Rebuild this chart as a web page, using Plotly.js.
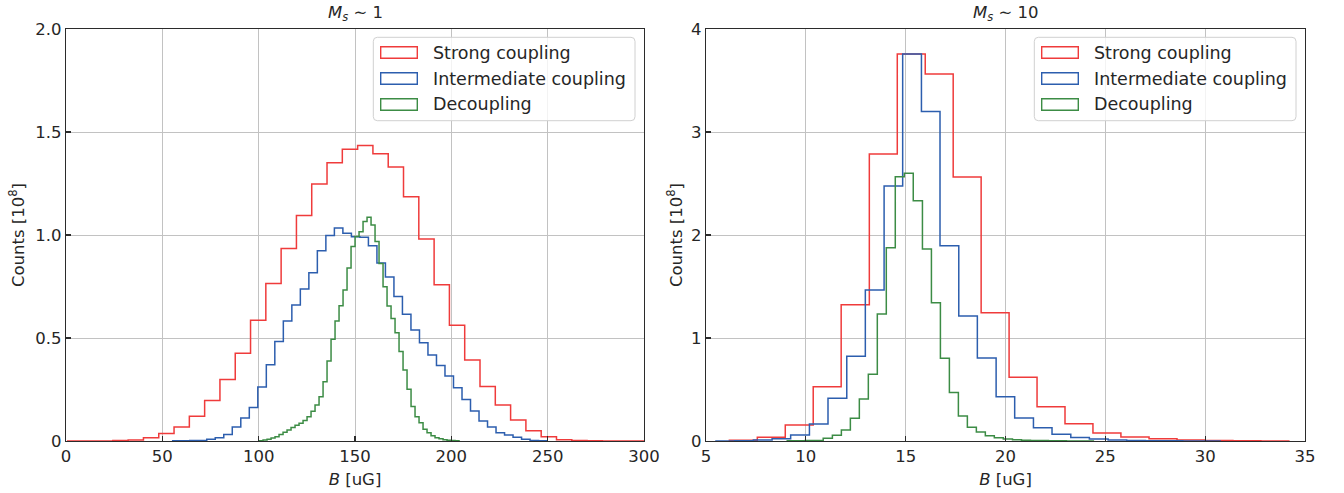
<!DOCTYPE html>
<html><head><meta charset="utf-8">
<script src="https://cdn.plot.ly/plotly-3.0.1.min.js"></script>
<style>html,body{margin:0;padding:0;background:#fff;}#chart{width:1344px;height:493px;}</style>
</head><body><div id="chart"></div>
<script>
// ---------- data ----------
const seriesNames = ['Strong coupling', 'Intermediate coupling', 'Decoupling'];
const panelTitles = ['<i>M</i><sub><i>s</i></sub> \u223C 1', '<i>M</i><sub><i>s</i></sub> \u223C 10'];

// Left panel (M_s ~ 1): bin edges in uG, counts in 1e8
const strongEdgesL = [0.5, 8.44, 16.38, 24.32, 32.26, 40.2, 48.14, 56.08, 64.02, 71.96, 79.9, 87.84, 95.78, 103.72, 111.66, 119.6, 127.54, 135.48, 143.42, 151.36, 159.3, 167.24, 175.18, 183.12, 191.06, 199.0, 206.94, 214.88, 222.82, 230.76, 238.7, 246.64, 254.58, 262.52, 270.46, 278.4, 286.34, 294.28, 302.22];
const strongCountsL = [0, 0, 0.0005, 0.002, 0.005, 0.016, 0.037, 0.068, 0.12, 0.196, 0.298, 0.426, 0.586, 0.764, 0.935, 1.095, 1.248, 1.351, 1.416, 1.435, 1.395, 1.330, 1.186, 0.981, 0.758, 0.562, 0.393, 0.264, 0.175, 0.102, 0.050, 0.021, 0.006, 0.002, 0.001, 0.0005, 0, 0];

const interEdgesL = [55.39, 59.81, 64.22, 68.64, 73.06, 77.47, 81.89, 86.30, 90.72, 95.14, 99.55, 103.97, 108.38, 112.80, 117.22, 121.63, 126.05, 130.46, 134.88, 139.30, 143.71, 148.13, 152.54, 156.96, 161.38, 165.79, 170.21, 174.62, 179.04, 183.46, 187.87, 192.29, 196.70, 201.12, 205.54, 209.95, 214.37, 218.78, 223.20, 227.62, 232.03, 236.45, 240.86, 245.28, 249.70];
const interCountsL = [0.001, 0.001, 0.002, 0.003, 0.008, 0.016, 0.032, 0.068, 0.112, 0.163, 0.262, 0.370, 0.483, 0.582, 0.660, 0.738, 0.817, 0.924, 0.998, 1.034, 1.008, 0.992, 0.989, 0.948, 0.864, 0.796, 0.702, 0.615, 0.539, 0.477, 0.417, 0.366, 0.316, 0.259, 0.202, 0.146, 0.097, 0.068, 0.040, 0.029, 0.018, 0.008, 0.002, 0.001];

const decEdgesL = [100.20, 102.28, 104.35, 106.43, 108.50, 110.58, 112.66, 114.73, 116.81, 118.88, 120.96, 123.04, 125.11, 127.19, 129.26, 131.34, 133.42, 135.49, 137.57, 139.64, 141.72, 143.80, 145.87, 147.95, 150.02, 152.10, 154.18, 156.25, 158.33, 160.40, 162.48, 164.56, 166.63, 168.71, 170.78, 172.86, 174.94, 177.01, 179.09, 181.16, 183.24, 185.32, 187.39, 189.47, 191.54, 193.62, 195.70, 197.77, 199.85, 201.92, 204.00];
const decCountsL = [0.001, 0.005, 0.008, 0.015, 0.021, 0.032, 0.042, 0.053, 0.065, 0.076, 0.086, 0.099, 0.118, 0.144, 0.175, 0.215, 0.288, 0.388, 0.494, 0.583, 0.657, 0.733, 0.840, 0.944, 0.993, 1.016, 1.065, 1.086, 1.049, 0.968, 0.862, 0.749, 0.655, 0.595, 0.526, 0.434, 0.345, 0.251, 0.167, 0.118, 0.089, 0.057, 0.040, 0.026, 0.016, 0.011, 0.006, 0.004, 0.002, 0.001];

// Right panel (M_s ~ 10)
const strongEdgesR = [6.17, 7.57, 8.97, 10.37, 11.77, 13.18, 14.58, 15.98, 17.38, 18.78, 20.18, 21.58, 22.98, 24.38, 25.78, 27.19, 28.59, 29.99, 31.39, 32.79, 34.19];
const strongCountsR = [0.008, 0.036, 0.155, 0.527, 1.324, 2.786, 3.757, 3.563, 2.563, 1.246, 0.618, 0.333, 0.168, 0.078, 0.039, 0.023, 0.010, 0.006, 0.003, 0.001];

const interEdgesR = [5.50, 6.44, 7.37, 8.31, 9.24, 10.18, 11.11, 12.05, 12.98, 13.92, 14.85, 15.79, 16.72, 17.66, 18.59, 19.53, 20.46, 21.40, 22.33, 23.27, 24.20, 25.14, 26.07, 27.01, 27.94, 28.88, 29.81, 30.75];
const interCountsR = [0.001, 0.003, 0.01, 0.023, 0.058, 0.165, 0.414, 0.822, 1.466, 2.476, 3.757, 3.20, 1.896, 1.214, 0.806, 0.430, 0.223, 0.129, 0.065, 0.034, 0.019, 0.009, 0.005, 0.003, 0.002, 0.001, 0.0005];

const decEdgesR = [9.07, 9.52, 9.97, 10.42, 10.87, 11.33, 11.78, 12.23, 12.68, 13.13, 13.58, 14.03, 14.48, 14.93, 15.38, 15.84, 16.29, 16.74, 17.19, 17.64, 18.09, 18.54, 18.99, 19.44, 19.89, 20.35, 20.80, 21.25, 21.70, 22.15, 22.60, 23.05, 23.50, 23.95, 24.40];
const decCountsR = [0.002, 0.003, 0.004, 0.006, 0.026, 0.055, 0.107, 0.220, 0.408, 0.647, 1.233, 1.877, 2.566, 2.600, 2.333, 1.864, 1.343, 0.803, 0.472, 0.243, 0.133, 0.087, 0.052, 0.032, 0.019, 0.012, 0.008, 0.005, 0.004, 0.003, 0.002, 0.001, 0.001, 0.0005];

// Tick labels
const xTickValsL = [0, 50, 100, 150, 200, 250, 300];
const xTickTextL = ['0', '50', '100', '150', '200', '250', '300'];
const yTickValsL = [0, 0.5, 1, 1.5, 2];
const yTickTextL = ['0', '0.5', '1.0', '1.5', '2.0'];
const xTickValsR = [5, 10, 15, 20, 25, 30, 35];
const xTickTextR = ['5', '10', '15', '20', '25', '30', '35'];
const yTickValsR = [0, 1, 2, 3, 4];
const yTickTextR = ['0', '1', '2', '3', '4'];
const xLabel = '<i>B</i> [uG]';
const yLabel = 'Counts [10<sup>8</sup>]';

// ---------- styling / build ----------
const colors = ['#ef3b3b', '#2c5eae', '#3c8c45'];
const FONT = 'DejaVu Sans';
const TXT = '#262626';

function stepTrace(edges, counts, color, xa, ya, name) {
  const x = [edges[0]].concat(edges);
  const y = [0].concat(counts, [0]);
  return {type: 'scatter', mode: 'lines', x: x, y: y, xaxis: xa, yaxis: ya, name: name,
          line: {shape: 'hv', color: color, width: 1.5}, showlegend: false, hoverinfo: 'skip'};
}

const traces = [
  stepTrace(strongEdgesL, strongCountsL, colors[0], 'x', 'y', seriesNames[0]),
  stepTrace(interEdgesL, interCountsL, colors[1], 'x', 'y', seriesNames[1]),
  stepTrace(decEdgesL, decCountsL, colors[2], 'x', 'y', seriesNames[2]),
  stepTrace(strongEdgesR, strongCountsR, colors[0], 'x2', 'y2', seriesNames[0]),
  stepTrace(interEdgesR, interCountsR, colors[1], 'x2', 'y2', seriesNames[1]),
  stepTrace(decEdgesR, decCountsR, colors[2], 'x2', 'y2', seriesNames[2])
];

const W = 1344, H = 493;
const ML = 66, MR = 39, MT = 29, MB = 52;
const PW = W - ML - MR, PH = H - MT - MB;
const X = px => (px - ML) / PW;
const Y = py => (H - MB - py) / PH;

function axisBase() {
  return {
    showline: true, mirror: true, linecolor: '#2b2b2b', linewidth: 1.2,
    showgrid: true, gridcolor: '#c2c2c2', gridwidth: 1,
    zeroline: false, ticks: 'inside', ticklen: 5, tickwidth: 1.1, tickcolor: '#2b2b2b',
    tickfont: {family: FONT, size: 16.5, color: TXT},
    tickmode: 'array', fixedrange: true
  };
}

const layout = {
  width: W, height: H,
  margin: {l: ML, r: MR, t: MT, b: MB},
  paper_bgcolor: '#ffffff', plot_bgcolor: '#ffffff',
  showlegend: false,
  font: {family: FONT, color: TXT},
  xaxis: Object.assign(axisBase(), {domain: [0, X(644)], range: [0, 300], tickvals: xTickValsL, ticktext: xTickTextL, anchor: 'y',
    title: {text: xLabel, font: {family: FONT, size: 16.5, color: TXT}, standoff: 8}}),
  yaxis: Object.assign(axisBase(), {domain: [0, 1], range: [0, 2], tickvals: yTickValsL, ticktext: yTickTextL, anchor: 'x',
    title: {text: yLabel, font: {family: FONT, size: 16.5, color: TXT}, standoff: 6}}),
  xaxis2: Object.assign(axisBase(), {domain: [X(706), 1], range: [5, 35], tickvals: xTickValsR, ticktext: xTickTextR, anchor: 'y2',
    title: {text: xLabel, font: {family: FONT, size: 16.5, color: TXT}, standoff: 8}}),
  yaxis2: Object.assign(axisBase(), {domain: [0, 1], range: [0, 4], tickvals: yTickValsR, ticktext: yTickTextR, anchor: 'x2',
    title: {text: yLabel, font: {family: FONT, size: 16.5, color: TXT}, standoff: 4}}),
  shapes: [], annotations: []
};

// Panel titles
[[66, 644], [706, 1305]].forEach((p, i) => {
  layout.annotations.push({xref: 'paper', yref: 'paper', x: X((p[0] + p[1]) / 2), y: Y(13.5),
    xanchor: 'center', yanchor: 'middle', showarrow: false, text: panelTitles[i],
    font: {family: FONT, size: 16.5, color: TXT}});
});

// Legends (matplotlib style boxes with outline patches)
function roundRect(x0, y0, x1, y1, r) {
  const rx = r / PW, ry = r / PH;
  const a = X(x0), b = X(x1), t = Y(y0), u = Y(y1);
  return `M${a + rx},${t} L${b - rx},${t} Q${b},${t} ${b},${t - ry} L${b},${u + ry} Q${b},${u} ${b - rx},${u} ` +
         `L${a + rx},${u} Q${a},${u} ${a},${u + ry} L${a},${t - ry} Q${a},${t} ${a + rx},${t} Z`;
}
[644, 1305].forEach(R => {
  const bx0 = R - 270.7, bx1 = R - 9, by0 = 37.3, by1 = 120.7;
  layout.shapes.push({type: 'path', xref: 'paper', yref: 'paper', layer: 'above',
    path: roundRect(bx0, by0, bx1, by1, 4), fillcolor: 'rgba(255,255,255,0.8)',
    line: {color: '#d0d0d0', width: 1}});
  seriesNames.forEach((nm, k) => {
    const cy = 52.5 + 26 * k;
    layout.shapes.push({type: 'rect', xref: 'paper', yref: 'paper', layer: 'above',
      x0: X(bx0 + 7.4), x1: X(bx0 + 44), y0: Y(cy - 5.8), y1: Y(cy + 5.8),
      fillcolor: 'rgba(0,0,0,0)', line: {color: colors[k], width: 1.4}});
    layout.annotations.push({xref: 'paper', yref: 'paper', x: X(bx0 + 57.5), y: Y(cy),
      xanchor: 'left', yanchor: 'middle', showarrow: false, text: nm,
      font: {family: FONT, size: 17.5, color: TXT}});
  });
});

Plotly.newPlot('chart', traces, layout, {staticPlot: true, displayModeBar: false});
</script></body></html>
